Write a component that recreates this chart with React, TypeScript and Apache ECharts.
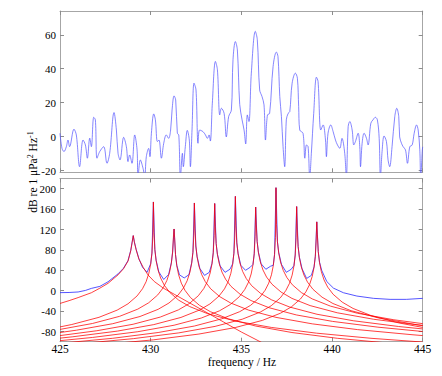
import React, { useEffect, useRef } from 'react';
import * as echarts from 'echarts';

const xTicks = [425, 430, 435, 440, 445];
const topYTicks = [-20, 0, 20, 40, 60];
const bottomYTicks = [-80, -40, 0, 40, 80, 120, 160, 200];

// top panel: measured spectrum (frequency Hz, dB)
const topFreq = [
  425.0, 425.11, 425.22, 425.35, 425.44, 425.53, 425.77, 425.9, 426.08, 426.27, 426.4, 426.51, 426.64, 426.73,
  426.86, 426.95, 427.04, 427.19, 427.41, 427.59, 427.74, 427.98, 428.11, 428.2, 428.31, 428.51, 428.66, 428.75,
  428.84, 428.97, 429.12, 429.25, 429.3, 429.43, 429.58, 429.67, 429.76, 429.89, 429.96, 430.04, 430.17, 430.26,
  430.37, 430.46, 430.59, 430.72, 430.86, 430.99, 431.1, 431.18, 431.29, 431.38, 431.47, 431.55, 431.64, 431.75,
  431.8, 431.91, 432.02, 432.13, 432.19, 432.28, 432.39, 432.5, 432.61, 432.7, 432.89, 433.02, 433.13, 433.22,
  433.29, 433.4, 433.57, 433.68, 433.81, 433.9, 434.05, 434.17, 434.3, 434.45, 434.54, 434.67, 434.78, 434.91,
  435.04, 435.15, 435.24, 435.33, 435.42, 435.55, 435.77, 435.88, 436.01, 436.14, 436.25, 436.33, 436.44, 436.56,
  436.75, 436.93, 437.02, 437.12, 437.21, 437.3, 437.39, 437.48, 437.58, 437.67, 437.8, 437.98, 438.09, 438.16,
  438.22, 438.4, 438.5, 438.59, 438.68, 438.77, 438.86, 438.99, 439.14, 439.23, 439.38, 439.51, 439.64, 439.69,
  439.78, 439.93, 440.06, 440.19, 440.3, 440.43, 440.55, 440.7, 440.79, 440.89, 440.98, 441.11, 441.2, 441.29,
  441.44, 441.53, 441.57, 441.66, 441.77, 441.9, 441.99, 442.14, 442.26, 442.39, 442.5, 442.6, 442.67, 442.76,
  442.87, 443.0, 443.09, 443.18, 443.31, 443.46, 443.57, 443.68, 443.73, 443.83, 443.92, 444.05, 444.16, 444.29,
  444.42, 444.53, 444.66, 444.75, 444.84, 444.89, 444.98, 445.0,
];
const topDb = [
  2.0, -6.9, -8.8, -5.9, -2.0, -5.9, 4.4, 1.0, -17.7, -2.0, -4.9, -12.7, -0.9, -5.9,
  11.4, 9.9, -12.7, -8.8, -5.9, -15.7, -9.8, 14.2, 3.9, -9.8, -13.7, -0.4, -5.9, -14.7,
  -10.8, -15.7, 1.0, -7.8, -24, -13.7, -18.7, -24, -11.8, -6.9, -11.8, 2.0, 13.4, 9.9,
  -2.9, -2.0, -12.7, -3.9, 1.0, -1.0, 3.9, 15.7, 24.0, 21.6, 2.0, 1.0, -24, -9.8,
  -17.7, -5.9, 3.7, -2.0, -17.7, 3.9, 31.5, 27.5, -3.9, 3.9, 2.9, 1.0, -1.0, 1.0,
  -2.6, 19.7, 44.3, 39.4, 12.8, 16.7, 13.7, -0.2, 11.8, 15.7, 45.3, 56.0, 51.1, 19.0,
  9.9, 3.9, -4.3, 12.8, 8.9, 37.4, 62.0, 57.1, 27.5, 23.6, 18.7, -2.0, 12.8, 13.7,
  41.3, 49.8, 47.2, 23.6, 11.8, -5.9, -17.7, 9.9, 13.7, 14.7, 31.5, 37.4, 34.4, 17.7,
  3.9, 2.0, -12.7, -4.9, -5.9, -24, -9.8, 13.7, 35.0, 32.5, 3.9, 6.9, -2.0, -11.8,
  2.0, 6.9, 3.0, -2.0, -4.9, -6.9, -1.0, -9.8, -24, 5.9, 8.9, 3.9, -4.9, -2.9,
  2.0, -5.9, -17.7, -3.9, 2.0, -1.0, -4.9, 7.9, 9.9, 11.4, 9.9, -1.0, -24, -8.8,
  0.4, -2.9, -13.7, -17.7, -5.9, 11.8, 16.7, 11.8, -0.2, -3.9, -5.9, -7.8, -15.7, -5.9,
  -4.9, 2.0, 6.9, 3.9, -7.8, -24, -7.8, -6.0,
];

// bottom panel: total modelled response (blue)
const totalResponse = [
  [425, -3.8], [425.5, -3.5], [426, -2.5], [426.4, 0.5], [426.73, 4.5], [427.2, 8.5], [427.65, 17.5], [428.2, 33],
  [428.5, 44], [428.75, 59], [428.9, 79], [428.98, 96], [429.04, 108], [429.1, 96], [429.2, 81], [429.35, 63],
  [429.55, 46], [429.8, 36], [430, 52.9], [430.07, 73.7], [430.15, 174], [430.23, 80.7], [430.3, 59.9], [430.45, 36.8],
  [430.72, 22], [430.99, 31.8], [431.14, 54.9], [431.21, 75.7], [431.29, 121], [431.37, 70.7], [431.44, 49.9],
  [431.59, 31], [431.85, 25], [432.11, 31.4], [432.26, 54.5], [432.33, 75.3], [432.41, 172], [432.49, 87.7],
  [432.56, 66.9], [432.71, 43.8], [432.97, 30], [433.23, 36], [433.38, 53.4], [433.45, 74.2], [433.53, 171],
  [433.61, 92.5], [433.68, 71.7], [433.83, 48.6], [434.1, 36], [434.37, 42], [434.52, 52.7], [434.59, 73.5],
  [434.67, 185], [434.75, 93.8], [434.82, 73], [434.97, 49.9], [435.23, 40], [435.49, 46], [435.64, 51.5],
  [435.71, 72.3], [435.79, 164], [435.87, 96.7], [435.94, 75.9], [436.09, 52.8], [436.35, 42], [436.61, 48],
  [436.76, 49.9], [436.83, 70.7], [436.91, 202], [436.99, 95.7], [437.06, 74.9], [437.21, 51.8], [437.48, 36],
  [437.75, 42], [437.9, 49.2], [437.97, 70], [438.05, 165], [438.13, 86.7], [438.2, 65.9], [438.35, 42.8],
  [438.6, 24], [438.86, 30], [439.01, 46.9], [439.08, 67.7], [439.16, 135], [439.24, 77], [439.31, 56.2],
  [439.43, 40], [439.71, 18], [440.08, 5], [440.63, -4], [441.37, -10.5], [442.29, -15], [443.2, -17],
  [444.1, -17], [445, -15],
];

// bottom panel: individual mode responses (red)
const mode1 = [
  [425, -25], [425.5, -19.5], [426, -13.5], [426.73, -4], [427.2, 5], [427.65, 14.5], [428.2, 31], [428.5, 43],
  [428.75, 58], [428.9, 78], [428.98, 95], [429.04, 108], [429.1, 95], [429.2, 80], [429.35, 62], [429.6, 45],
  [429.85, 31], [430.2, 18], [430.7, 5], [431.3, -7], [432, -21], [433, -41], [434, -61], [435, -81], [436.2, -103],
];
const mode2 = [
  [425, -71], [425.65, -66.3], [427.15, -52.2], [428.15, -38.1], [428.75, -25.7], [429.25, -10.3], [429.55, 3.8],
  [429.75, 17.8], [429.9, 34.2], [430, 51.9], [430.07, 73.7], [430.12, 107.4], [430.15, 174], [430.18, 114.4],
  [430.23, 80.7], [430.3, 58.9], [430.4, 41.2], [430.55, 24.8], [430.75, 10.8], [431.05, -3.3], [431.55, -18.7],
  [432.15, -31.1], [433.15, -45.2], [434.65, -59.3], [436.65, -72], [439.15, -83.3], [442.15, -93.3], [445, -100.7],
];
const mode3 = [
  [425, -75.9], [426.79, -64.3], [428.29, -50.2], [429.29, -36.1], [429.89, -23.7], [430.39, -8.3], [430.69, 5.8],
  [430.89, 19.8], [431.04, 36.2], [431.14, 53.9], [431.21, 75.7], [431.26, 109.4], [431.29, 121], [431.32, 104.4],
  [431.37, 70.7], [431.44, 48.9], [431.54, 31.2], [431.69, 14.8], [431.89, 0.8], [432.19, -13.3], [432.69, -28.7],
  [433.29, -41.1], [434.29, -55.2], [435.79, -69.3], [437.79, -82], [440.29, -93.3], [443.29, -103.3], [445, -107.9],
];
const mode4 = [
  [425, -82], [425.91, -77.4], [427.91, -64.7], [429.41, -50.6], [430.41, -36.5], [431.01, -24.1], [431.51, -8.7],
  [431.81, 5.4], [432.01, 19.4], [432.16, 35.8], [432.26, 53.5], [432.33, 75.3], [432.38, 109], [432.41, 172],
  [432.44, 121.4], [432.49, 87.7], [432.56, 65.9], [432.66, 48.2], [432.81, 31.8], [433.01, 17.8], [433.31, 3.7],
  [433.81, -11.7], [434.41, -24.1], [435.41, -38.2], [436.91, -52.3], [438.91, -65], [441.41, -76.3], [444.41, -86.3],
  [445, -88],
];
const mode5 = [
  [425, -88], [427.03, -78.5], [429.03, -65.8], [430.53, -51.7], [431.53, -37.6], [432.13, -25.2], [432.63, -9.8],
  [432.93, 4.3], [433.13, 18.3], [433.28, 34.7], [433.38, 52.4], [433.45, 74.2], [433.5, 107.9], [433.53, 171],
  [433.56, 126.2], [433.61, 92.5], [433.68, 70.7], [433.78, 53], [433.93, 36.6], [434.13, 22.6], [434.43, 8.5],
  [434.93, -6.9], [435.53, -19.3], [436.53, -33.4], [438.03, -47.5], [440.03, -60.2], [442.53, -71.5], [445, -80],
];
const mode6 = [
  [425, -93], [425.67, -90.5], [428.17, -79.2], [430.17, -66.5], [431.67, -52.4], [432.67, -38.3], [433.27, -25.9],
  [433.77, -10.5], [434.07, 3.6], [434.27, 17.6], [434.42, 34], [434.52, 51.7], [434.59, 73.5], [434.64, 107.2],
  [434.67, 185], [434.7, 127.5], [434.75, 93.8], [434.82, 72], [434.92, 54.3], [435.07, 37.9], [435.27, 23.9],
  [435.57, 9.8], [436.07, -5.6], [436.67, -18], [437.67, -32.1], [439.17, -46.2], [441.17, -58.9], [443.67, -70.2],
  [445, -75],
];
const mode7 = [
  [425, -98], [426.79, -91.7], [429.29, -80.4], [431.29, -67.7], [432.79, -53.6], [433.79, -39.5], [434.39, -27.1],
  [434.89, -11.7], [435.19, 2.4], [435.39, 16.4], [435.54, 32.8], [435.64, 50.5], [435.71, 72.3], [435.76, 106],
  [435.79, 164], [435.82, 130.4], [435.87, 96.7], [435.94, 74.9], [436.04, 57.2], [436.19, 40.8], [436.39, 26.8],
  [436.69, 12.7], [437.19, -2.7], [437.79, -15.1], [438.79, -29.2], [440.29, -43.3], [442.29, -56], [444.79, -67.3],
  [445, -68.1],
];
const mode8 = [
  [425, -103.1], [427.91, -93.3], [430.41, -82], [432.41, -69.3], [433.91, -55.2], [434.91, -41.1], [435.51, -28.7],
  [436.01, -13.3], [436.31, 0.8], [436.51, 14.8], [436.66, 31.2], [436.76, 48.9], [436.83, 70.7], [436.88, 104.4],
  [436.91, 202], [436.94, 129.4], [436.99, 95.7], [437.06, 73.9], [437.16, 56.2], [437.31, 39.8], [437.51, 25.8],
  [437.81, 11.7], [438.31, -3.7], [438.91, -16.1], [439.91, -30.2], [441.41, -44.3], [443.41, -57], [445, -64.6],
];
const mode9 = [
  [425, -107], [426.05, -104], [429.05, -94], [431.55, -82.7], [433.55, -70], [435.05, -55.9], [436.05, -41.8],
  [436.65, -29.4], [437.15, -14], [437.45, 0.1], [437.65, 14.1], [437.8, 30.5], [437.9, 48.2], [437.97, 70],
  [438.02, 103.7], [438.05, 165], [438.08, 120.4], [438.13, 86.7], [438.2, 64.9], [438.3, 47.2], [438.45, 30.8],
  [438.65, 16.8], [438.95, 2.7], [439.45, -12.7], [440.05, -25.1], [441.05, -39.2], [442.55, -53.3], [444.55, -66],
  [445, -68.4],
];
const mode10 = [
  [425, -112.1], [427.16, -106.3], [430.16, -96.3], [432.66, -85], [434.66, -72.3], [436.16, -58.2], [437.16, -44.1],
  [437.76, -31.7], [438.26, -16.3], [438.56, -2.2], [438.76, 11.8], [438.91, 28.2], [439.01, 45.9], [439.08, 67.7],
  [439.13, 101.4], [439.16, 135], [439.19, 110.7], [439.24, 77], [439.31, 55.2], [439.41, 37.5], [439.56, 21.1],
  [439.76, 7.1], [440.06, -7], [440.56, -22.4], [441.16, -34.8], [442.16, -48.9], [443.66, -63], [445, -72],
];
const modes = [mode1, mode2, mode3, mode4, mode5, mode6, mode7, mode8, mode9, mode10];

const FONT = "'Liberation Serif', 'Times New Roman', 'DejaVu Serif', serif";
const FRAME = '#a6a6a6';

function xAxisCfg(gridIndex: number, position: 'top' | 'bottom', showLabel: boolean) {
  return {
    type: 'value',
    gridIndex,
    position,
    min: xTicks[0],
    max: xTicks[xTicks.length - 1],
    interval: 5,
    axisLine: { show: true, onZero: false, lineStyle: { color: FRAME, width: 1 } },
    axisTick: { show: true, inside: true, length: 4, lineStyle: { color: '#8c8c8c' } },
    axisLabel: {
      show: showLabel,
      margin: 1.5,
      color: '#000',
      fontFamily: FONT,
      fontSize: 11.5,
    },
    splitLine: { show: false },
  };
}

function yAxisCfg(
  gridIndex: number,
  position: 'left' | 'right',
  showLabel: boolean,
  min: number,
  max: number,
  ticks: number[],
) {
  return {
    type: 'value',
    gridIndex,
    position,
    min,
    max,
    axisLine: { show: true, onZero: false, lineStyle: { color: FRAME, width: 1 } },
    axisTick: { show: true, inside: true, length: 4, lineStyle: { color: '#8c8c8c' }, customValues: ticks },
    axisLabel: {
      show: showLabel,
      customValues: ticks,
      margin: 4,
      color: '#000',
      fontFamily: FONT,
      fontSize: 11,
    },
    splitLine: { show: false },
  };
}

export default function App() {
  const ref = useRef<HTMLDivElement>(null);

  useEffect(() => {
    if (!ref.current) return;
    const chart = echarts.init(ref.current, undefined, { renderer: 'svg' });

    const series: any[] = [
      {
        type: 'line',
        xAxisIndex: 0,
        yAxisIndex: 0,
        data: topFreq.map((f, i) => [f, topDb[i]]),
        showSymbol: false,
        symbol: 'none',
        smooth: 0.35,
        lineStyle: { width: 0.7, color: '#5252ff' },
        silent: true,
      },
      {
        type: 'line',
        xAxisIndex: 2,
        yAxisIndex: 2,
        data: totalResponse,
        showSymbol: false,
        symbol: 'none',
        lineStyle: { width: 0.8, color: '#2a2aff' },
        silent: true,
      },
      ...modes.map((m) => ({
        type: 'line',
        xAxisIndex: 2,
        yAxisIndex: 2,
        data: m,
        showSymbol: false,
        symbol: 'none',
        lineStyle: { width: 0.75, color: '#ff0000' },
        silent: true,
      })),
    ];

    chart.setOption({
      animation: false,
      backgroundColor: '#ffffff',
      grid: [
        { left: 60, top: 11, width: 362.7, height: 161.3 },
        { left: 60, top: 178.5, width: 362.7, height: 163.2 },
      ],
      xAxis: [
        xAxisCfg(0, 'bottom', false),
        xAxisCfg(0, 'top', false),
        xAxisCfg(1, 'bottom', true),
        xAxisCfg(1, 'top', false),
      ],
      yAxis: [
        yAxisCfg(0, 'left', true, -21, 74, topYTicks),
        yAxisCfg(0, 'right', false, -21, 74, topYTicks),
        yAxisCfg(1, 'left', true, -100, 220, bottomYTicks),
        yAxisCfg(1, 'right', false, -100, 220, bottomYTicks),
      ],
      graphic: [
        {
          type: 'text',
          x: 33,
          y: 172,
          rotation: Math.PI / 2,
          style: {
            text: '{a|dB re 1 μPa}{s|2}{a| Hz}{s|-1}',
            align: 'center',
            verticalAlign: 'middle',
            rich: {
              a: { fontFamily: FONT, fontSize: 11.5, fill: '#000', lineHeight: 14 },
              s: { fontFamily: FONT, fontSize: 8, fill: '#000', lineHeight: 9, verticalAlign: 'top' },
            },
          },
        },
        {
          type: 'text',
          x: 242,
          y: 361.5,
          style: {
            text: 'frequency / Hz',
            fontFamily: FONT,
            fontSize: 11.5,
            fill: '#000',
            align: 'center',
            verticalAlign: 'middle',
          },
        },
      ],
      series,
    });

    return () => chart.dispose();
  }, []);

  return (
    <div
      ref={ref}
      style={{ position: 'absolute', left: 0, top: 0, width: 442, height: 376 }}
    />
  );
}
